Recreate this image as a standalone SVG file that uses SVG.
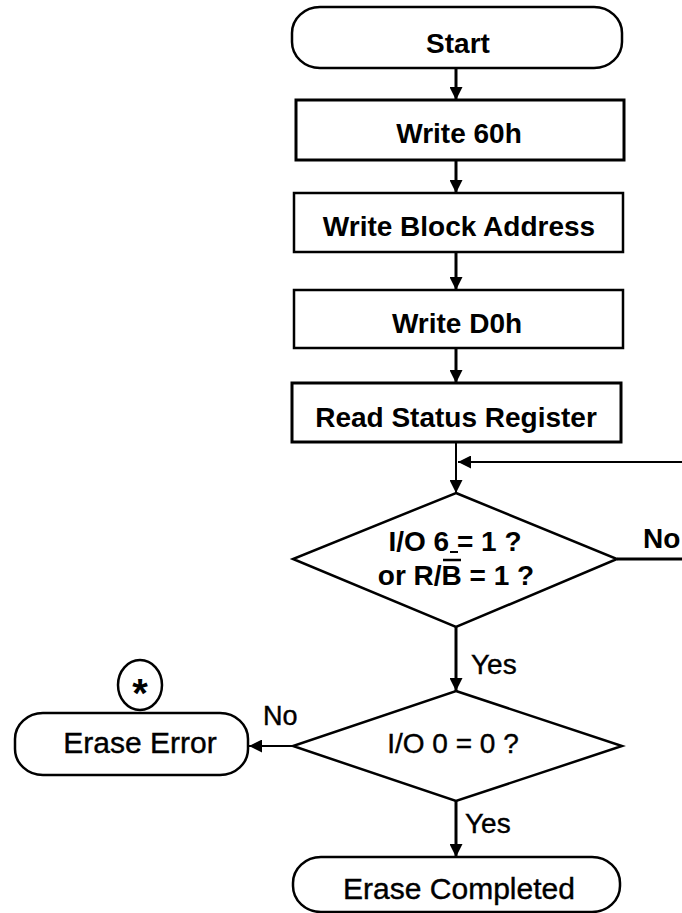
<svg xmlns="http://www.w3.org/2000/svg" width="682" height="913" viewBox="0 0 682 913">
<style>
.shape{fill:#fff;stroke:#000;stroke-width:2.5}
.b{font-family:"Liberation Sans",Arial,sans-serif;font-weight:bold;font-size:28px;fill:#000}
.r{font-family:"Liberation Sans",Arial,sans-serif;font-weight:normal;font-size:30px;fill:#000;stroke:#000;stroke-width:0.4}
.c{text-anchor:middle}
.conn{fill:none;stroke:#000;stroke-width:3}
.thin{stroke-width:2}
</style>
<defs>
<marker id="arr" viewBox="0 0 12 12" refX="12" refY="6" markerWidth="13" markerHeight="13" markerUnits="userSpaceOnUse" orient="auto">
<path d="M0,0 L12,6 L0,12 z" fill="#000"/>
</marker>
</defs>
<rect width="682" height="913" fill="#fff"/>
<g id="connectors">
<path class="conn" d="M456,68 V100" marker-end="url(#arr)"/>
<path class="conn" d="M456,160 V193" marker-end="url(#arr)"/>
<path class="conn" d="M456,252 V290" marker-end="url(#arr)"/>
<path class="conn" d="M456,348 V383" marker-end="url(#arr)"/>
<path class="conn thin" d="M456,442 V493" marker-end="url(#arr)"/>
<path class="conn" d="M617,559 H686"/>
<path class="conn thin" d="M686,462 H458" marker-end="url(#arr)"/>
<path class="conn" d="M456,627 V691" marker-end="url(#arr)"/>
<path class="conn thin" d="M293,746 H249" marker-end="url(#arr)"/>
<path class="conn" d="M456,801 V857" marker-end="url(#arr)"/>
<text class="b" x="643" y="548">No</text>
<text class="r" style="font-size:28px" x="471" y="674">Yes</text>
<text class="r" style="font-size:27px" x="263" y="725">No</text>
<text class="r" style="font-size:28px" x="465" y="833">Yes</text>
</g>
<g id="start">
<rect class="shape" x="292" y="7" width="330" height="61" rx="28" ry="26"/>
<text class="b c" x="458" y="53">Start</text>
</g>
<g id="write60h">
<rect class="shape" x="296" y="100" width="328" height="60" style="stroke-width:3"/>
<text class="b c" x="459" y="143">Write 60h</text>
</g>
<g id="writeBlockAddress">
<rect class="shape" x="294" y="193" width="329" height="59"/>
<text class="b c" x="459" y="236">Write Block Address</text>
</g>
<g id="writeD0h">
<rect class="shape" x="294" y="290" width="329" height="58"/>
<text class="b c" x="457" y="333">Write D0h</text>
</g>
<g id="readStatus">
<rect class="shape" x="292" y="383" width="329" height="59" style="stroke-width:3"/>
<text class="b c" x="456" y="427">Read Status Register</text>
</g>
<g id="decision1">
<polygon class="shape" points="456,493 617,559 456,627 293,559"/>
<text class="b c" x="455" y="551">I/O 6 = 1 ?</text>
<line x1="450" y1="552" x2="458" y2="552" stroke="#000" stroke-width="2"/>
<text class="b c" x="456" y="585">or R/B = 1 ?</text>
<line x1="443" y1="560" x2="461" y2="560" stroke="#000" stroke-width="2.5"/>
</g>
<g id="decision2">
<polygon class="shape" points="456,691 622,746 456,801 293,746"/>
<text class="r c" style="font-size:28px" x="453" y="753">I/O 0 = 0 ?</text>
</g>
<g id="eraseError">
<rect class="shape" x="15" y="713" width="233" height="62" rx="28" ry="26"/>
<text class="r c" x="140" y="753">Erase Error</text>
</g>
<g id="asterisk">
<ellipse class="shape" cx="140" cy="685" rx="22" ry="25"/>
<text class="b c" style="font-size:40px" x="140" y="707">*</text>
</g>
<g id="eraseCompleted">
<rect class="shape" x="293" y="857" width="327" height="55" rx="28" ry="26"/>
<text class="r c" x="459" y="899">Erase Completed</text>
</g>
</svg>
